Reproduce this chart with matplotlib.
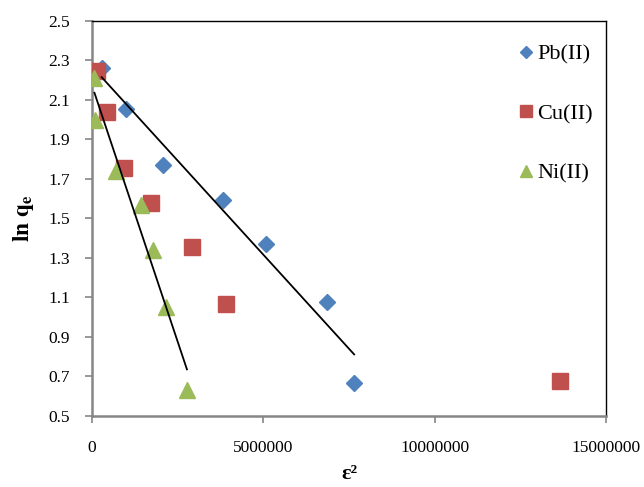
import matplotlib.pyplot as plt
import numpy as np

# ------------------------------------------------------------------------------
# Data
pb_x = [280000, 980000, 2070000, 3820000, 5080000, 6870000, 7650000]
pb_y = [2.26, 2.053, 1.769, 1.592, 1.369, 1.079, 0.666]

cu_x = [140000, 430000, 930000, 1730000, 2910000, 3900000, 13660000]
cu_y = [2.248, 2.038, 1.756, 1.577, 1.357, 1.067, 0.676]

ni_x = [70000, 100000, 700000, 1430000, 1770000, 2160000, 2770000]
ni_y = [2.21, 1.999, 1.742, 1.568, 1.341, 1.05, 0.632]

xticks = [0, 5000000, 10000000, 15000000]
yticks = [0.5, 0.7, 0.9, 1.1, 1.3, 1.5, 1.7, 1.9, 2.1, 2.3, 2.5]

plt.rcParams['font.family'] = ['Liberation Serif', 'DejaVu Serif']
plt.rcParams['mathtext.fontset'] = 'stix'

fig = plt.figure(figsize=(6.44, 4.87), dpi=100)
ax = fig.add_axes([0.1429, 0.1458, 0.7981, 0.8111])

ax.plot(pb_x, pb_y, linestyle='none', marker='D', markersize=8.5,
        color='#4F81BD', label='Pb(II)', zorder=3)
ax.plot(cu_x, cu_y, linestyle='none', marker='s', markersize=12,
        color='#C0504D', label='Cu(II)', zorder=3)
ax.plot(ni_x, ni_y, linestyle='none', marker='^', markersize=12,
        color='#9BBB59', label='Ni(II)', zorder=4)

# linear trendlines for Pb and Ni
for xs, ys in [(pb_x, pb_y), (ni_x, ni_y)]:
    k, b = np.polyfit(xs, ys, 1)
    xx = np.array([min(xs), max(xs)])
    ax.plot(xx, k * xx + b, color='black', linewidth=1.3, zorder=5)

ax.set_xlim(0, 15000000)
ax.set_ylim(0.5, 2.5)
ax.set_xticks(xticks)
ax.set_xticklabels([str(v) for v in xticks])
ax.set_yticks(yticks)
ax.set_yticklabels(['%.1f' % v for v in yticks])
ax.tick_params(axis='both', labelsize=12.5, direction='out', length=5,
               color='#868686', width=1.2)
ax.tick_params(axis='x', pad=12)
ax.tick_params(axis='y', pad=11)

for s in ['left', 'bottom']:
    ax.spines[s].set_color('#868686')
    ax.spines[s].set_linewidth(1.8)
for s in ['top', 'right']:
    ax.spines[s].set_color('black')
    ax.spines[s].set_linewidth(1.0)

ax.set_ylabel(r'$\mathbf{ln\ q_e}$', fontsize=17, labelpad=9)
ax.set_xlabel('ε²', fontsize=16, fontweight='bold', labelpad=6)

ax.legend(loc='upper right', bbox_to_anchor=(1.0, 0.975), frameon=False,
          fontsize=16, labelspacing=1.75, handletextpad=0.0,
          handlelength=1.0, markerscale=0.75, borderaxespad=0.2)

fig.savefig('out.png', dpi=100)
